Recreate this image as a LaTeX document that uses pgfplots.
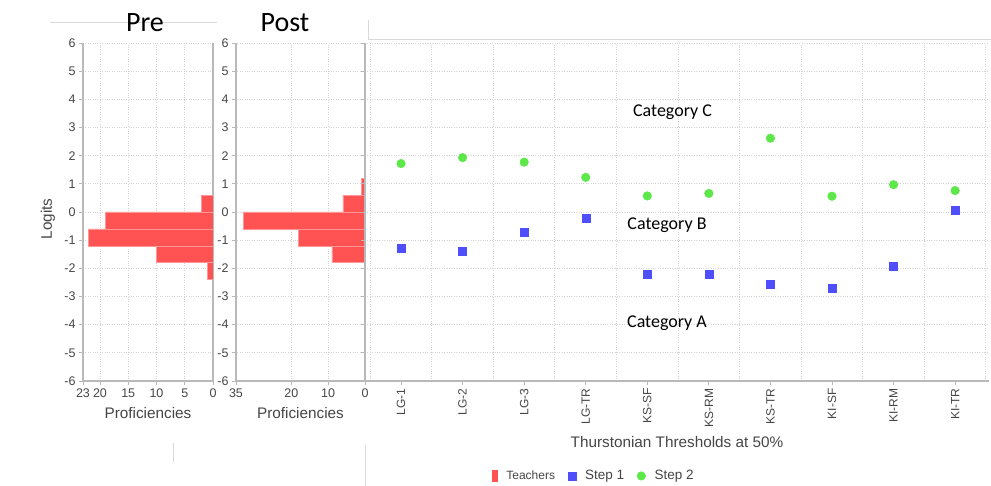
\documentclass[border=0pt]{standalone}
\usepackage{pgfplots}
\pgfplotsset{compat=1.18}
\usepackage{fontspec}
\setmainfont{Liberation Sans}
\newfontfamily\calfont{Carlito}
\definecolor{tchred}{RGB}{255,82,82}
\definecolor{stepblue}{RGB}{78,78,250}
\definecolor{stepgreen}{RGB}{92,232,72}
\definecolor{axgray}{RGB}{185,185,185}
\definecolor{gridgray}{RGB}{212,212,212}
\definecolor{txtgray}{RGB}{70,70,70}
\pgfplotsset{
  base/.style={
    scale only axis, height=338pt, ymin=-6, ymax=6, ytick={-6,...,6},
    anchor=south west,
    tick align=outside, major tick length=4pt, minor tick length=0pt,
    tick style={axgray, line width=0.8pt},
    axis line style={axgray, line width=1.2pt},
    grid style={gridgray, dotted, line width=0.9pt},
    tick label style={font=\fontsize{12.5}{14}\selectfont, text=txtgray},
    label style={font=\fontsize{15.3}{17}\selectfont, text=txtgray},
    /pgf/number format/assume math mode=true,
  }
}
\begin{document}
\begin{tikzpicture}
\useasboundingbox (0,0) rectangle (991pt,486pt);
\fill[white] (0,0) rectangle (991pt,486pt);
% faint frame lines of the original composite
\draw[gray!30, line width=0.8pt] (50pt,464pt) -- (217pt,464pt);
\draw[gray!30, line width=0.8pt] (368pt,466pt) -- (368pt,447pt) -- (991pt,447pt);
\draw[gray!30, line width=0.8pt] (173pt,43pt) -- (173pt,24pt);
\draw[gray!30, line width=0.8pt] (365pt,41pt) -- (365pt,0pt);

% Pre
\begin{axis}[base, at={(83pt,105pt)}, width=130pt,
  x dir=reverse, xmin=0, xmax=23, xtick={0,5,10,15,20,23},
  grid=major, axis x line*=bottom, axis y line*=box, ytick pos=left,
  xlabel={Proficiencies}, ylabel={Logits},
  xlabel style={at={(axis description cs:0.5,-0.095)}, anchor=center},
  ylabel style={at={(axis description cs:-0.27,0.48)}, anchor=center}]
\addplot[xbar interval, fill=tchred, draw=tchred!60!white, line width=0.4pt]
  coordinates {(1,-2.4) (10,-1.8) (22,-1.2) (19,-0.6) (2,0) (2,0.6)};
\end{axis}

% Post
\begin{axis}[base, at={(236pt,105pt)}, width=129pt,
  x dir=reverse, xmin=0, xmax=35, xtick={0,10,20,35},
  grid=major, axis x line*=bottom, axis y line*=box, ytick pos=left,
  xlabel={Proficiencies},
  xlabel style={at={(axis description cs:0.5,-0.095)}, anchor=center}]
\addplot[xbar interval, fill=tchred, draw=tchred!60!white, line width=0.4pt]
  coordinates {(9,-1.8) (18,-1.2) (33,-0.6) (6,0) (1,0.6) (1,1.2)};
\end{axis}

% Main
\begin{axis}[base, at={(365pt,105pt)}, width=624pt,
  xmin=-0.585, xmax=9.55,
  xtick={0,...,9},
  xticklabels={LG-1,LG-2,LG-3,LG-TR,KS-SF,KS-RM,KS-TR,KI-SF,KI-RM,KI-TR},
  x tick label style={rotate=90, anchor=east, font=\fontsize{12}{14}\selectfont},
  minor xtick={-0.5,0.5,...,9.5},
  xminorgrids=true, ymajorgrids=true,
  yticklabels={},
  axis x line*=bottom, axis y line*=left,
  xlabel={Thurstonian Thresholds at 50\%},
  xlabel style={at={(axis description cs:0.5,-0.18)}, anchor=center},
  legend style={at={(axis description cs:0.367,-0.281)}, anchor=center,
    draw=none, fill=none, font=\fontsize{13.5}{15}\selectfont, text=txtgray,
    legend columns=3,
    /tikz/every odd column/.append style={column sep=7pt},
    /tikz/every even column/.append style={column sep=11pt}},
  legend cell align=left]
\addlegendimage{only marks, mark=square*, mark size=5pt, color=tchred,
  mark options={xscale=0.5, yscale=1.1}}
\addlegendentry{\fontsize{12}{14}\selectfont Teachers}
\addplot[only marks, mark=square*, mark size=4pt, color=stepblue]
  coordinates {(0,-1.30) (1,-1.39) (2,-0.70) (3,-0.21) (4,-2.21)
               (5,-2.21) (6,-2.55) (7,-2.71) (8,-1.91) (9,0.06)};
\addlegendentry{Step 1}
\addplot[only marks, mark=*, mark size=4.3pt, color=stepgreen]
  coordinates {(0,1.72) (1,1.93) (2,1.77) (3,1.23) (4,0.57)
               (5,0.66) (6,2.62) (7,0.56) (8,0.97) (9,0.76)};
\addlegendentry{Step 2}
\node[font=\calfont\fontsize{18}{20}\selectfont] at (axis cs:4.41,3.55) {Category C};
\node[font=\calfont\fontsize{18}{20}\selectfont] at (axis cs:4.32,-0.46) {Category B};
\node[font=\calfont\fontsize{18}{20}\selectfont] at (axis cs:4.32,-3.94) {Category A};
\end{axis}

\node[font=\calfont\fontsize{28}{31}\selectfont] at (145pt,463pt) {Pre};
\node[font=\calfont\fontsize{28}{31}\selectfont] at (285pt,463pt) {Post};
\end{tikzpicture}
\end{document}
